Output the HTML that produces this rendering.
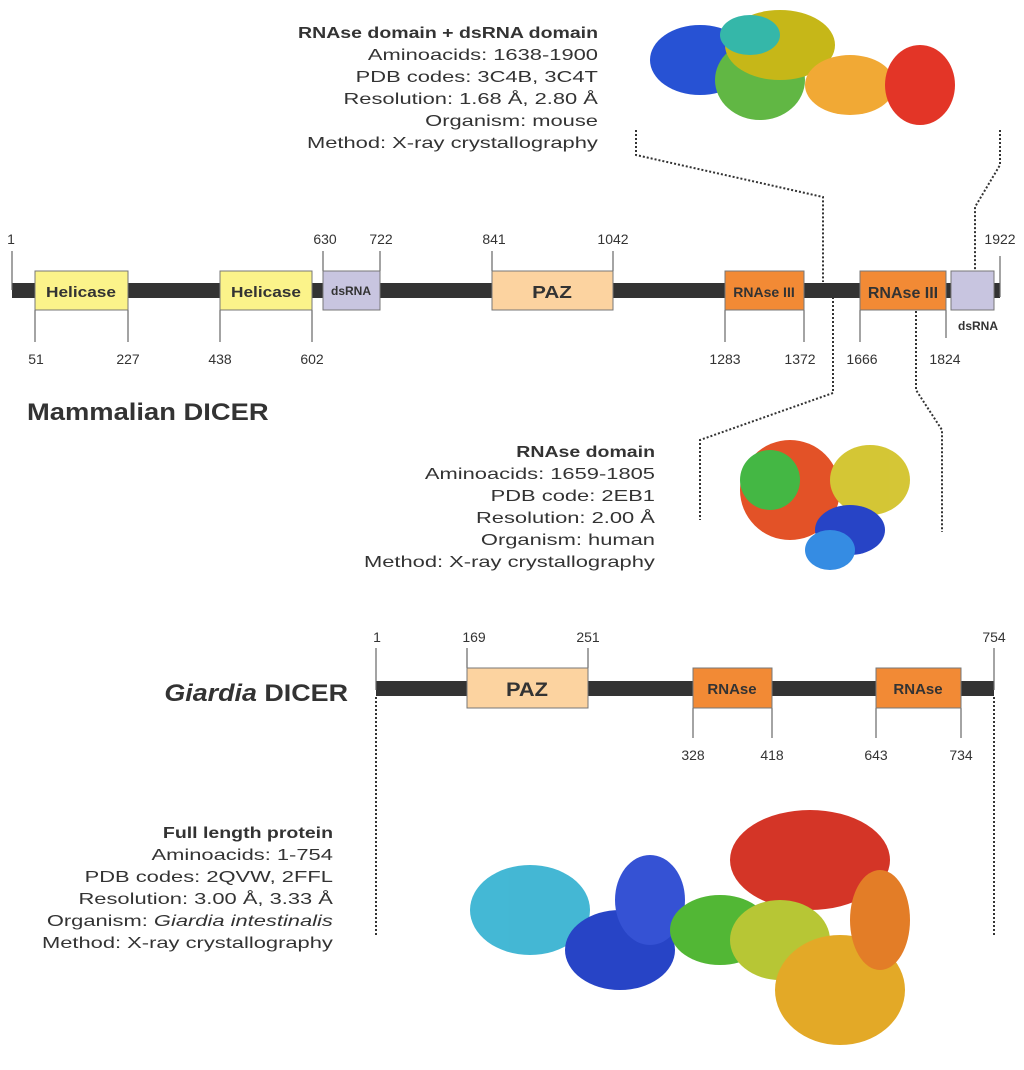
<!DOCTYPE html>
<html><head><meta charset="utf-8"><style>
body{margin:0;background:#fff}
svg{display:block}
text{font-family:"Liberation Sans",sans-serif;fill:#333}
.sx{transform-box:fill-box;transform-origin:right center;transform:scaleX(1.37)}
.sb{transform-box:fill-box;transform-origin:right center;transform:scaleX(1.22)}
.sc{transform-box:fill-box;transform-origin:center;transform:scaleX(1.15)}
.sl{transform-box:fill-box;transform-origin:left center;transform:scaleX(1.14)}
.sr{transform-box:fill-box;transform-origin:right center;transform:scaleX(1.12)}
</style></head><body>
<svg width="1024" height="1070" viewBox="0 0 1024 1070" xmlns="http://www.w3.org/2000/svg">
<g opacity=".9">
<ellipse cx="700" cy="60" rx="50" ry="35" fill="#1040d0"/>
<ellipse cx="760" cy="80" rx="45" ry="40" fill="#50b030"/>
<ellipse cx="780" cy="45" rx="55" ry="35" fill="#c0b000"/>
<ellipse cx="850" cy="85" rx="45" ry="30" fill="#f0a020"/>
<ellipse cx="920" cy="85" rx="35" ry="40" fill="#e02010"/>
<ellipse cx="750" cy="35" rx="30" ry="20" fill="#20b0a0"/>
</g>
<g opacity=".9">
<ellipse cx="790" cy="490" rx="50" ry="50" fill="#e04010"/>
<ellipse cx="770" cy="480" rx="30" ry="30" fill="#30b030"/>
<ellipse cx="870" cy="480" rx="40" ry="35" fill="#d0c020"/>
<ellipse cx="850" cy="530" rx="35" ry="25" fill="#1030c0"/>
<ellipse cx="830" cy="550" rx="25" ry="20" fill="#2080e0"/>
</g>
<g opacity=".9">
<ellipse cx="530" cy="910" rx="60" ry="45" fill="#30b0d0"/>
<ellipse cx="620" cy="950" rx="55" ry="40" fill="#1030c0"/>
<ellipse cx="650" cy="900" rx="35" ry="45" fill="#2040d0"/>
<ellipse cx="720" cy="930" rx="50" ry="35" fill="#40b020"/>
<ellipse cx="810" cy="860" rx="80" ry="50" fill="#d02010"/>
<ellipse cx="780" cy="940" rx="50" ry="40" fill="#b0c020"/>
<ellipse cx="840" cy="990" rx="65" ry="55" fill="#e0a010"/>
<ellipse cx="880" cy="920" rx="30" ry="50" fill="#e07010"/>
</g>

<g fill="none" stroke="#333" stroke-width="2" stroke-dasharray="2,2">
<polyline points="636,130 636,155 823,197 823,282"/>
<polyline points="1000,130 1000,165 975,207 975,271"/>
<polyline points="833,297 833,393 700,440 700,520"/>
<polyline points="916,311 916,390 942,430 942,532"/>
<polyline points="376,697 376,935"/>
<polyline points="994,697 994,935"/>
</g>

<rect x="12" y="283" width="988" height="15" fill="#333"/>
<g stroke="#666" stroke-width="1.2">
<line x1="12" y1="251" x2="12" y2="290"/>
<line x1="323" y1="251" x2="323" y2="271"/><line x1="380" y1="251" x2="380" y2="271"/>
<line x1="492" y1="251" x2="492" y2="271"/><line x1="613" y1="251" x2="613" y2="271"/>
<line x1="1000" y1="256" x2="1000" y2="297"/>
<line x1="35" y1="310" x2="35" y2="342"/><line x1="128" y1="310" x2="128" y2="342"/>
<line x1="220" y1="310" x2="220" y2="342"/><line x1="312" y1="310" x2="312" y2="342"/>
<line x1="725" y1="310" x2="725" y2="342"/><line x1="804" y1="310" x2="804" y2="342"/>
<line x1="860" y1="310" x2="860" y2="342"/><line x1="946" y1="310" x2="946" y2="338"/>
</g>
<g stroke="#777" stroke-width="1">
<rect x="35" y="271" width="93" height="39" fill="#fbf38a"/>
<rect x="220" y="271" width="92" height="39" fill="#fbf38a"/>
<rect x="323" y="271" width="57" height="39" fill="#c8c5e0"/>
<rect x="492" y="271" width="121" height="39" fill="#fcd3a0"/>
<rect x="725" y="271" width="79" height="39" fill="#f28a35"/>
<rect x="860" y="271" width="86" height="39" fill="#f28a35"/>
<rect x="951" y="271" width="43" height="39" fill="#c8c5e0"/>
</g>
<g font-weight="bold" text-anchor="middle">
<text class="sc" x="81" y="297" font-size="15">Helicase</text>
<text class="sc" x="266" y="297" font-size="15">Helicase</text>
<text x="351" y="295" font-size="12">dsRNA</text>
<text class="sc" x="552" y="298" font-size="18">PAZ</text>
<text x="764" y="297" font-size="14">RNAse III</text>
<text x="903" y="298" font-size="16">RNAse III</text>
<text x="978" y="330" font-size="12">dsRNA</text>
</g>
<g font-size="14" text-anchor="middle">
<text x="11" y="244">1</text><text x="325" y="244">630</text><text x="381" y="244">722</text>
<text x="494" y="244">841</text><text x="613" y="244">1042</text><text x="1000" y="244">1922</text>
<text x="36" y="364">51</text><text x="128" y="364">227</text><text x="220" y="364">438</text><text x="312" y="364">602</text>
<text x="725" y="364">1283</text><text x="800" y="364">1372</text><text x="862" y="364">1666</text><text x="945" y="364">1824</text>
</g>
<text class="sl" x="27" y="420" font-size="24" font-weight="bold">Mammalian DICER</text>

<rect x="376" y="681" width="618" height="15" fill="#333"/>
<g stroke="#666" stroke-width="1.2">
<line x1="376" y1="648" x2="376" y2="690"/><line x1="994" y1="648" x2="994" y2="690"/>
<line x1="467" y1="648" x2="467" y2="668"/><line x1="588" y1="648" x2="588" y2="668"/>
<line x1="693" y1="708" x2="693" y2="738"/><line x1="772" y1="708" x2="772" y2="738"/>
<line x1="876" y1="708" x2="876" y2="738"/><line x1="961" y1="708" x2="961" y2="738"/>
</g>
<g stroke="#777" stroke-width="1">
<rect x="467" y="668" width="121" height="40" fill="#fcd3a0"/>
<rect x="693" y="668" width="79" height="40" fill="#f28a35"/>
<rect x="876" y="668" width="85" height="40" fill="#f28a35"/>
</g>
<g font-weight="bold" text-anchor="middle">
<text class="sc" x="527" y="696" font-size="19">PAZ</text>
<text x="732" y="694" font-size="15">RNAse</text>
<text x="918" y="694" font-size="15">RNAse</text>
</g>
<g font-size="14" text-anchor="middle">
<text x="377" y="642">1</text><text x="474" y="642">169</text><text x="588" y="642">251</text><text x="994" y="642">754</text>
<text x="693" y="760">328</text><text x="772" y="760">418</text><text x="876" y="760">643</text><text x="961" y="760">734</text>
</g>
<text class="sr" x="348" y="701" font-size="24" font-weight="bold" text-anchor="end"><tspan font-style="italic">Giardia</tspan> DICER</text>

<g font-size="16" text-anchor="end">
<text class="sb" x="598" y="38" font-weight="bold">RNAse domain + dsRNA domain</text>
<text class="sx" x="598" y="60">Aminoacids: 1638-1900</text>
<text class="sx" x="598" y="82">PDB codes: 3C4B, 3C4T</text>
<text class="sx" x="598" y="104">Resolution: 1.68 Å, 2.80 Å</text>
<text class="sx" x="598" y="126">Organism: mouse</text>
<text class="sx" x="598" y="148">Method: X-ray crystallography</text>

<text class="sb" x="655" y="457" font-weight="bold">RNAse domain</text>
<text class="sx" x="655" y="479">Aminoacids: 1659-1805</text>
<text class="sx" x="655" y="501">PDB code: 2EB1</text>
<text class="sx" x="655" y="523">Resolution: 2.00 Å</text>
<text class="sx" x="655" y="545">Organism: human</text>
<text class="sx" x="655" y="567">Method: X-ray crystallography</text>

<text class="sb" x="333" y="838" font-weight="bold">Full length protein</text>
<text class="sx" x="333" y="860">Aminoacids: 1-754</text>
<text class="sx" x="333" y="882">PDB codes: 2QVW, 2FFL</text>
<text class="sx" x="333" y="904">Resolution: 3.00 Å, 3.33 Å</text>
<text class="sx" x="333" y="926">Organism: <tspan font-style="italic">Giardia intestinalis</tspan></text>
<text class="sx" x="333" y="948">Method: X-ray crystallography</text>
</g>
</svg>
</body></html>
